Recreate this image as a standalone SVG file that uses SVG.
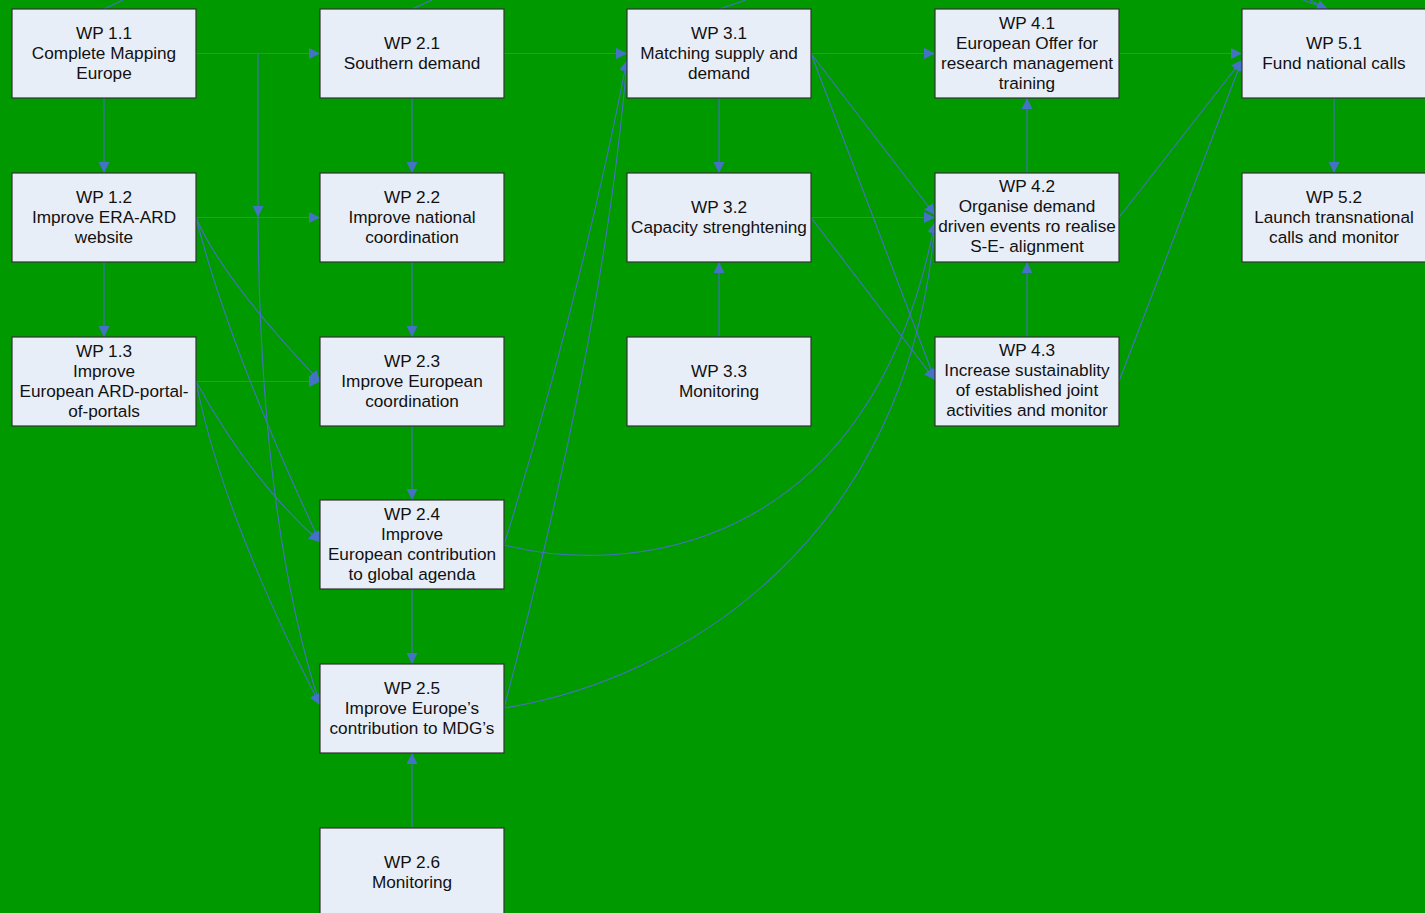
<svg xmlns="http://www.w3.org/2000/svg" width="1425" height="913" viewBox="0 0 1425 913">
<style>
.box{fill:#E8EEF8;stroke:#333;stroke-width:1.2}
.lbl{font-family:"Liberation Sans",Arial,sans-serif;font-size:17.2px;fill:#111;text-anchor:middle}
.c{fill:none;stroke:#4472C4;stroke-width:1.1}
.a{marker-end:url(#arr)}
</style>
<defs>
<marker id="arr" markerUnits="userSpaceOnUse" markerWidth="12" markerHeight="12" refX="11" refY="5.5" orient="auto">
<path d="M0,0 L11,5.5 L0,11 z" fill="#4472C4"/>
</marker>
</defs>
<rect width="1425" height="913" fill="#009900"/>
<g id="connectors">
<path class="c" d="M104,9 L123,0"/>
<path class="c" d="M412,9 L432,0"/>
<path class="c" d="M719,9 L746,0"/>
<path class="c a" d="M1303,0 L1328,9"/>
<path class="c" d="M1310,0 L1328,9"/>
<path class="c a" d="M104,98 V173"/>
<path class="c a" d="M104,262 V337"/>
<path class="c a" d="M196,53.5 H320"/>
<path class="c a" d="M258,53.5 V217"/>
<path class="c a" d="M196,217.5 H320"/>
<path class="c a" d="M196,381.5 H320"/>
<path class="c a" d="M196,217.5 Q221,277 320,381.5"/>
<path class="c a" d="M196,217.5 Q229,348 320,542"/>
<path class="c a" d="M196,381.5 Q251,481 320,542"/>
<path class="c a" d="M196,381.5 Q222,514 320,705"/>
<path class="c a" d="M258,217.5 Q260,520 320,705"/>
<path class="c a" d="M412,98 V173"/>
<path class="c a" d="M412,262 V337"/>
<path class="c a" d="M412,426 V500"/>
<path class="c a" d="M412,589 V664"/>
<path class="c a" d="M412,828 V753"/>
<path class="c a" d="M504,53.5 H627"/>
<path class="c a" d="M504,545 Q580,300 627,60"/>
<path class="c a" d="M504,708 Q605,330 627,60"/>
<path class="c a" d="M504,545 C620,575 870,560 935,222"/>
<path class="c a" d="M504,708 C680,680 910,540 935,222"/>
<path class="c a" d="M719,98 V173"/>
<path class="c a" d="M719,337 V262"/>
<path class="c a" d="M811,53.5 H935"/>
<path class="c a" d="M811,53.5 L935,215"/>
<path class="c a" d="M811,53.5 L935,380"/>
<path class="c a" d="M811,217.5 H935"/>
<path class="c a" d="M811,217.5 L935,380"/>
<path class="c a" d="M1027,173 V98"/>
<path class="c a" d="M1027,337 V262"/>
<path class="c a" d="M1119,53.5 H1242"/>
<path class="c a" d="M1119,217.5 L1242,60"/>
<path class="c a" d="M1119,381.5 L1242,60"/>
<path class="c a" d="M1334,98 V173"/>
</g>
<g id="wp11"><rect class="box" x="12" y="9" width="184" height="89"/><text class="lbl" y="38.5"><tspan x="104">WP 1.1</tspan><tspan x="104" dy="20">Complete Mapping</tspan><tspan x="104" dy="20">Europe</tspan></text></g>
<g id="wp12"><rect class="box" x="12" y="173" width="184" height="89"/><text class="lbl" y="202.5"><tspan x="104">WP 1.2</tspan><tspan x="104" dy="20">Improve ERA-ARD</tspan><tspan x="104" dy="20">website</tspan></text></g>
<g id="wp13"><rect class="box" x="12" y="337" width="184" height="89"/><text class="lbl" y="356.5"><tspan x="104">WP 1.3</tspan><tspan x="104" dy="20">Improve</tspan><tspan x="104" dy="20">European ARD-portal-</tspan><tspan x="104" dy="20">of-portals</tspan></text></g>
<g id="wp21"><rect class="box" x="320" y="9" width="184" height="89"/><text class="lbl" y="48.5"><tspan x="412">WP 2.1</tspan><tspan x="412" dy="20">Southern demand</tspan></text></g>
<g id="wp22"><rect class="box" x="320" y="173" width="184" height="89"/><text class="lbl" y="202.5"><tspan x="412">WP 2.2</tspan><tspan x="412" dy="20">Improve national</tspan><tspan x="412" dy="20">coordination</tspan></text></g>
<g id="wp23"><rect class="box" x="320" y="337" width="184" height="89"/><text class="lbl" y="366.5"><tspan x="412">WP 2.3</tspan><tspan x="412" dy="20">Improve European</tspan><tspan x="412" dy="20">coordination</tspan></text></g>
<g id="wp24"><rect class="box" x="320" y="500" width="184" height="89"/><text class="lbl" y="519.5"><tspan x="412">WP 2.4</tspan><tspan x="412" dy="20">Improve</tspan><tspan x="412" dy="20">European contribution</tspan><tspan x="412" dy="20">to global agenda</tspan></text></g>
<g id="wp25"><rect class="box" x="320" y="664" width="184" height="89"/><text class="lbl" y="693.5"><tspan x="412">WP 2.5</tspan><tspan x="412" dy="20">Improve Europe’s</tspan><tspan x="412" dy="20">contribution to MDG’s</tspan></text></g>
<g id="wp26"><rect class="box" x="320" y="828" width="184" height="89"/><text class="lbl" y="867.5"><tspan x="412">WP 2.6</tspan><tspan x="412" dy="20">Monitoring</tspan></text></g>
<g id="wp31"><rect class="box" x="627" y="9" width="184" height="89"/><text class="lbl" y="38.5"><tspan x="719">WP 3.1</tspan><tspan x="719" dy="20">Matching supply and</tspan><tspan x="719" dy="20">demand</tspan></text></g>
<g id="wp32"><rect class="box" x="627" y="173" width="184" height="89"/><text class="lbl" y="212.5"><tspan x="719">WP 3.2</tspan><tspan x="719" dy="20">Capacity strenghtening</tspan></text></g>
<g id="wp33"><rect class="box" x="627" y="337" width="184" height="89"/><text class="lbl" y="376.5"><tspan x="719">WP 3.3</tspan><tspan x="719" dy="20">Monitoring</tspan></text></g>
<g id="wp41"><rect class="box" x="935" y="9" width="184" height="89"/><text class="lbl" y="28.5"><tspan x="1027">WP 4.1</tspan><tspan x="1027" dy="20">European Offer for</tspan><tspan x="1027" dy="20">research management</tspan><tspan x="1027" dy="20">training</tspan></text></g>
<g id="wp42"><rect class="box" x="935" y="173" width="184" height="89"/><text class="lbl" y="191.5"><tspan x="1027">WP 4.2</tspan><tspan x="1027" dy="20.5">Organise demand</tspan><tspan x="1027" dy="20">driven events ro realise</tspan><tspan x="1027" dy="20">S-E- alignment</tspan></text></g>
<g id="wp43"><rect class="box" x="935" y="337" width="184" height="89"/><text class="lbl" y="355.5"><tspan x="1027">WP 4.3</tspan><tspan x="1027" dy="20.5">Increase sustainablity</tspan><tspan x="1027" dy="20">of established joint</tspan><tspan x="1027" dy="20">activities and monitor</tspan></text></g>
<g id="wp51"><rect class="box" x="1242" y="9" width="184" height="89"/><text class="lbl" y="48.5"><tspan x="1334">WP 5.1</tspan><tspan x="1334" dy="20">Fund national calls</tspan></text></g>
<g id="wp52"><rect class="box" x="1242" y="173" width="184" height="89"/><text class="lbl" y="202.5"><tspan x="1334">WP 5.2</tspan><tspan x="1334" dy="20">Launch transnational</tspan><tspan x="1334" dy="20">calls and monitor</tspan></text></g>
</svg>
